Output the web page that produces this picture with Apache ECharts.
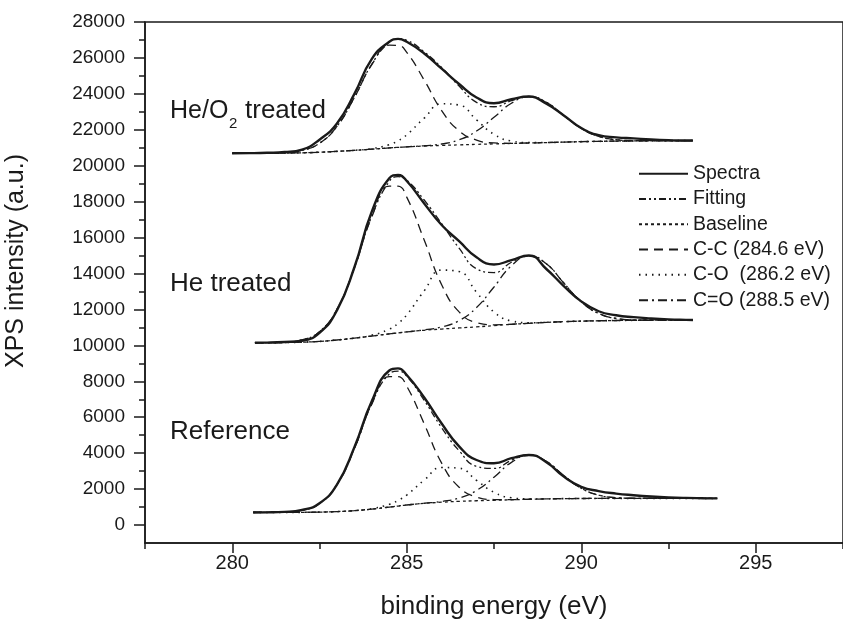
<!DOCTYPE html>
<html><head><meta charset="utf-8">
<script src="https://cdn.jsdelivr.net/npm/echarts@6/dist/echarts.min.js"></script>
<style>html,body{margin:0;padding:0;background:#fff}#c{width:843px;height:622px}</style>
</head><body><div id="c"></div>
<script>
// ---------- data ----------
const refEnergy = [280.6, 281, 281.5, 282, 282.5, 283, 283.5, 284, 284.5, 284.75, 285, 285.5, 286, 286.5, 287, 287.5, 288, 288.5, 289, 289.5, 290, 290.5, 291, 291.5, 292, 292.5, 293, 293.5, 293.9];
const refSpectra  = [700, 705, 730, 840, 1210, 2250, 4330, 6900, 8600, 8720, 8350, 7100, 5650, 4380, 3620, 3440, 3720, 3900, 3500, 2700, 2130, 1890, 1750, 1660, 1590, 1540, 1510, 1495, 1486];
const refFitting  = [700, 702, 722, 820, 1200, 2252, 4263, 6759, 8409, 8566, 8285, 6937, 5418, 4137, 3266, 3149, 3608, 3903, 3542, 2754, 2050, 1665, 1523, 1487, 1480, 1480, 1480, 1480, 1480];
const refBaseline = [700, 700, 702, 708, 720, 748, 800, 885, 1000, 1058, 1115, 1205, 1270, 1318, 1352, 1378, 1405, 1435, 1455, 1470, 1477, 1480, 1480, 1480, 1480, 1480, 1480, 1480, 1480];
const refCC       = [700, 702, 722, 820, 1200, 2252, 4260, 6732, 8256, 8257, 7729, 5636, 3445, 2106, 1561, 1419, 1411, 1435, 1455, 1470, 1477, 1480, 1480, 1480, 1480, 1480, 1480, 1480, 1480];
const refCO       = [700, 700, 702, 708, 720, 748, 803, 912, 1153, 1367, 1671, 2499, 3200, 3164, 2484, 1824, 1517, 1453, 1457, 1470, 1477, 1480, 1480, 1480, 1480, 1480, 1480, 1480, 1480];
const refCdO      = [700, 700, 702, 708, 720, 748, 800, 885, 1000, 1058, 1115, 1212, 1313, 1503, 1925, 2662, 3490, 3885, 3540, 2754, 2050, 1665, 1523, 1487, 1480, 1480, 1480, 1480, 1480];

const heEnergy = [280.65, 281, 281.5, 282, 282.5, 283, 283.5, 284, 284.5, 284.75, 285, 285.5, 286, 286.5, 287, 287.5, 288, 288.5, 289, 289.5, 290, 290.5, 291, 291.5, 292, 292.5, 293, 293.2];
const heSpectra  = [10150, 10155, 10185, 10260, 10700, 11950, 14350, 17450, 19300, 19480, 19150, 17900, 16700, 15800, 14900, 14500, 14750, 15000, 14250, 13300, 12450, 11900, 11680, 11570, 11500, 11450, 11420, 11412];
const heFitting  = [10150, 10152, 10182, 10308, 10765, 12006, 14330, 17198, 19130, 19388, 19201, 18091, 16775, 15410, 14266, 14055, 14625, 15001, 14541, 13471, 12425, 11778, 11502, 11420, 11404, 11405, 11410, 11412];
const heBaseline = [10150, 10150, 10160, 10180, 10220, 10300, 10400, 10520, 10640, 10695, 10750, 10840, 10910, 10970, 11030, 11100, 11170, 11230, 11280, 11320, 11350, 11370, 11385, 11395, 11400, 11405, 11410, 11412];
const heCC       = [10150, 10152, 10182, 10308, 10765, 12006, 14325, 17152, 18870, 18861, 18252, 15866, 13377, 11864, 11267, 11146, 11177, 11230, 11280, 11320, 11350, 11370, 11385, 11395, 11400, 11405, 11410, 11412];
const heCO       = [10150, 10150, 10160, 10180, 10220, 10300, 10405, 10566, 10900, 11220, 11695, 13040, 14191, 14108, 12954, 11858, 11360, 11261, 11283, 11320, 11350, 11370, 11385, 11395, 11400, 11405, 11410, 11412];
const heCdO      = [10150, 10150, 10160, 10180, 10220, 10300, 10400, 10520, 10640, 10697, 10754, 10865, 11027, 11378, 12105, 13251, 14428, 14970, 14538, 13471, 12425, 11778, 11502, 11420, 11404, 11405, 11410, 11412];

const hoEnergy = [280, 280.5, 281, 281.5, 282, 282.5, 283, 283.5, 284, 284.5, 284.75, 285, 285.5, 286, 286.5, 287, 287.5, 288, 288.5, 289, 289.5, 290, 290.5, 291, 291.5, 292, 292.5, 293, 293.2];
const hoSpectra  = [20692, 20700, 20720, 20760, 20900, 21450, 22350, 24000, 25950, 26900, 27060, 26900, 26250, 25400, 24550, 23800, 23480, 23700, 23850, 23450, 22800, 22100, 21700, 21580, 21520, 21460, 21420, 21400, 21400];
const hoFitting  = [20690, 20693, 20702, 20733, 20856, 21250, 22193, 23800, 25662, 26892, 27070, 26982, 26335, 25467, 24433, 23523, 23282, 23621, 23858, 23530, 22793, 22079, 21637, 21450, 21397, 21393, 21395, 21400, 21400];
const hoBaseline = [20690, 20693, 20698, 20705, 20720, 20750, 20800, 20855, 20920, 20990, 21020, 21050, 21095, 21130, 21160, 21190, 21215, 21240, 21265, 21290, 21315, 21340, 21357, 21370, 21380, 21390, 21395, 21400, 21400];
const hoCC       = [20690, 20693, 20702, 20733, 20856, 21250, 22193, 23796, 25630, 26708, 26699, 26312, 24765, 23071, 21938, 21426, 21269, 21249, 21266, 21290, 21315, 21340, 21357, 21370, 21380, 21390, 21395, 21400, 21400];
const hoCO       = [20690, 20693, 20698, 20705, 20720, 20750, 20800, 20859, 20952, 21174, 21390, 21717, 22648, 23446, 23375, 22548, 21750, 21374, 21287, 21292, 21315, 21340, 21357, 21370, 21380, 21390, 21395, 21400, 21400];
const hoCdO      = [20690, 20693, 20698, 20705, 20720, 20750, 20800, 20855, 20920, 20990, 21021, 21053, 21112, 21210, 21440, 21929, 22693, 23478, 23835, 23528, 22793, 22079, 21637, 21450, 21397, 21393, 21395, 21400, 21400];

const seriesNames = ['Spectra', 'Fitting', 'Baseline', 'C-C (284.6 eV)', 'C-O  (286.2 eV)', 'C=O (288.5 eV)'];
const xMajorTicks = [280, 285, 290, 295];
const xMinorTicks = [277.5, 282.5, 287.5, 292.5, 297.5];
const yMajorTicks = [0, 2000, 4000, 6000, 8000, 10000, 12000, 14000, 16000, 18000, 20000, 22000, 24000, 26000, 28000];
const yMinorTicks = [1000, 3000, 5000, 7000, 9000, 11000, 13000, 15000, 17000, 19000, 21000, 23000, 25000, 27000];

// ---------- styling ----------
const FONT = '"Liberation Sans", Arial, Helvetica, sans-serif';
const INK = '#1a1a1a';
const lineStyles = [
  {type: 'solid', width: 2.4},
  {type: [7, 3, 2, 3, 2, 3], width: 1.3},
  {type: [3, 3], width: 1.3},
  {type: [9, 6], width: 1.3},
  {type: [1.5, 5], width: 1.6},
  {type: [9, 4, 2, 4], width: 1.3}
];
const sets = [
  {x: refEnergy, ys: [refSpectra, refFitting, refBaseline, refCC, refCO, refCdO]},
  {x: heEnergy,  ys: [heSpectra, heFitting, heBaseline, heCC, heCO, heCdO]},
  {x: hoEnergy,  ys: [hoSpectra, hoFitting, hoBaseline, hoCC, hoCO, hoCdO]}
];

const series = [];
sets.forEach(s => {
  s.ys.forEach((ys, k) => {
    series.push({
      name: seriesNames[k],
      type: 'line',
      data: s.x.map((x, i) => [x, ys[i]]),
      smooth: 0.5,
      symbol: 'none',
      showSymbol: false,
      lineStyle: Object.assign({color: INK}, lineStyles[k]),
      itemStyle: {color: INK},
      z: k === 0 ? 5 : 3,
      animation: false
    });
  });
});

const tickLine = {color: INK, width: 1.5};
const chart = echarts.init(document.getElementById('c'), null, {renderer: 'canvas'});
chart.setOption({
  animation: false,
  backgroundColor: '#fff',
  grid: {show: true, left: 145, top: 22, right: -3, bottom: 79, borderColor: INK, borderWidth: 1.5, backgroundColor: 'transparent'},
  xAxis: [
    {type: 'value', min: 277.5, max: 297.5, position: 'bottom',
     axisLine: {show: true, onZero: false, lineStyle: tickLine},
     splitLine: {show: false},
     axisTick: {show: true, length: 10, customValues: xMajorTicks, lineStyle: tickLine},
     axisLabel: {show: true, customValues: xMajorTicks, fontSize: 20, color: INK, margin: 10, fontFamily: FONT,
                 formatter: v => String(v)}},
    {type: 'value', min: 277.5, max: 297.5, position: 'bottom',
     axisLine: {show: false, onZero: false},
     splitLine: {show: false},
     axisTick: {show: true, length: 6, customValues: xMinorTicks, lineStyle: tickLine},
     axisLabel: {show: false}}
  ],
  yAxis: [
    {type: 'value', min: -1000, max: 28000, position: 'left',
     axisLine: {show: true, onZero: false, lineStyle: tickLine},
     splitLine: {show: false},
     axisTick: {show: true, length: 11, customValues: yMajorTicks, lineStyle: tickLine},
     axisLabel: {show: true, customValues: yMajorTicks, fontSize: 19, color: INK, margin: 20, fontFamily: FONT,
                 formatter: v => String(v)}},
    {type: 'value', min: -1000, max: 28000, position: 'left',
     axisLine: {show: false, onZero: false},
     splitLine: {show: false},
     axisTick: {show: true, length: 6, customValues: yMinorTicks, lineStyle: tickLine},
     axisLabel: {show: false}}
  ],
  legend: {
    orient: 'vertical', left: 638, top: 161, padding: 0, itemWidth: 49, itemHeight: 14, itemGap: 0,
    selectedMode: false, data: seriesNames,
    itemStyle: {opacity: 0, borderWidth: 0},
    textStyle: {fontSize: 19.5, color: INK, fontFamily: FONT, lineHeight: 25.3}
  },
  graphic: [
    {type: 'text', style: {x: 170, y: 111, text: 'He/O', fontSize: 25, fontFamily: FONT, fill: INK, verticalAlign: 'middle'}},
    {type: 'text', style: {x: 229, y: 124, text: '2', fontSize: 15, fontFamily: FONT, fill: INK, verticalAlign: 'middle'}},
    {type: 'text', style: {x: 245, y: 111, text: 'treated', fontSize: 26, fontFamily: FONT, fill: INK, verticalAlign: 'middle'}},
    {type: 'text', style: {x: 170, y: 284, text: 'He treated', fontSize: 26, fontFamily: FONT, fill: INK, verticalAlign: 'middle'}},
    {type: 'text', style: {x: 170, y: 432, text: 'Reference', fontSize: 26, fontFamily: FONT, fill: INK, verticalAlign: 'middle'}},
    {type: 'text', x: 16, y: 261, rotation: Math.PI / 2, style: {x: 0, y: 0, text: 'XPS intensity (a.u.)', fontSize: 25, fontFamily: FONT, fill: INK, align: 'center', verticalAlign: 'middle'}},
    {type: 'text', style: {x: 494, y: 607, text: 'binding energy (eV)', fontSize: 26, fontFamily: FONT, fill: INK, align: 'center', verticalAlign: 'middle'}}
  ],
  series: series
});
</script>
</body></html>
